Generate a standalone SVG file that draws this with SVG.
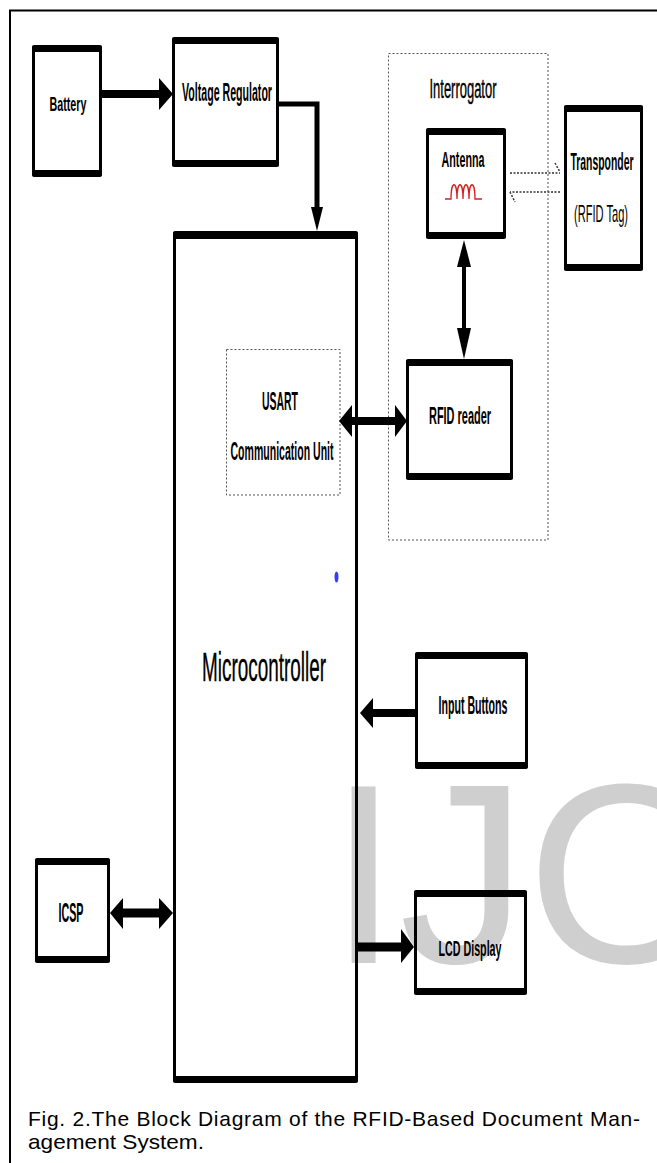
<svg xmlns="http://www.w3.org/2000/svg" width="657" height="1163" viewBox="0 0 657 1163">
<style>
.bx{fill:none;stroke:#000;stroke-width:3}
.bar{fill:#000}
.lbl{font-family:"Liberation Sans",Arial,sans-serif;font-weight:bold;fill:#000;text-anchor:middle}
.lbn{font-family:"Liberation Sans",Arial,sans-serif;font-weight:normal;fill:#000;text-anchor:middle}
.dot{fill:none;stroke:#555;stroke-width:1;stroke-dasharray:2,2}
.ln{fill:none;stroke:#000}
.ah{fill:#000}
.dl{fill:none;stroke:#333;stroke-width:1.5;stroke-dasharray:2,1.5}
.cap{font-family:"Liberation Sans",Arial,sans-serif;font-size:21px;fill:#000}
</style>
<rect width="657" height="1163" fill="#fff"/>
<text x="328" y="963" font-family="Liberation Sans, Arial, sans-serif" font-size="256" fill="#cfcfcf">IJO</text>
<path d="M10,1163 V10.5 H657" fill="none" stroke="#000" stroke-width="2"/>

<g id="interrogator">
<rect class="dot" x="388.5" y="53.5" width="159.5" height="486.5"/>
<text class="lbn" x="463" y="98" font-size="27" textLength="67" lengthAdjust="spacingAndGlyphs" stroke="#000" stroke-width="0.4">Interrogator</text>
</g>
<g id="usart">
<rect class="dot" x="226.5" y="349.5" width="113.5" height="145.5"/>
<text class="lbl" x="280" y="410" font-size="25" textLength="36" lengthAdjust="spacingAndGlyphs">USART</text>
<text class="lbl" x="282" y="460" font-size="25" textLength="103" lengthAdjust="spacingAndGlyphs">Communication Unit</text>
</g>

<g id="battery">
<rect class="bx" x="33.5" y="48" width="67" height="126"/>
<rect class="bar" x="32" y="45" width="70" height="7" rx="2"/>
<rect class="bar" x="32" y="170" width="70" height="7" rx="2"/>
<text class="lbl" x="68" y="111" font-size="21" textLength="37" lengthAdjust="spacingAndGlyphs">Battery</text>
</g>
<g id="voltage-regulator">
<rect class="bx" x="173.5" y="40" width="104" height="124"/>
<rect class="bar" x="172" y="37" width="107" height="7" rx="2"/>
<rect class="bar" x="172" y="160" width="107" height="7" rx="2"/>
<text class="lbl" x="227" y="101" font-size="25" textLength="90" lengthAdjust="spacingAndGlyphs">Voltage Regulator</text>
</g>
<g id="antenna">
<rect class="bx" x="427.5" y="131" width="77" height="105"/>
<rect class="bar" x="426" y="128" width="80" height="7" rx="2"/>
<rect class="bar" x="426" y="232" width="80" height="7" rx="2"/>
<text class="lbl" x="463" y="167" font-size="22" textLength="43" lengthAdjust="spacingAndGlyphs">Antenna</text>
<path d="M445,199 H451 C451,180 457,180 457,199 C457,180 463,180 463,199 C463,180 469,180 469,199 C469,180 475,180 475,199 H482" fill="none" stroke="#d42020" stroke-width="1.3"/>
</g>
<g id="transponder">
<rect class="bx" x="565.5" y="108" width="76" height="160"/>
<rect class="bar" x="564" y="105" width="79" height="7" rx="2"/>
<rect class="bar" x="564" y="264" width="79" height="7" rx="2"/>
<text class="lbl" x="602" y="170" font-size="23" textLength="63" lengthAdjust="spacingAndGlyphs">Transponder</text>
<text class="lbn" x="601" y="222" font-size="24" textLength="54" lengthAdjust="spacingAndGlyphs">(RFID Tag)</text>
</g>
<g id="rfid-reader">
<rect class="bx" x="407.5" y="362" width="104" height="115"/>
<rect class="bar" x="406" y="359" width="107" height="7" rx="2"/>
<rect class="bar" x="406" y="473" width="107" height="7" rx="2"/>
<text class="lbl" x="460" y="424" font-size="24" textLength="62" lengthAdjust="spacingAndGlyphs">RFID reader</text>
</g>
<g id="microcontroller">
<rect class="bx" x="174.5" y="234" width="182" height="846"/>
<rect class="bar" x="173" y="231" width="185" height="8" rx="2"/>
<rect class="bar" x="173" y="1076" width="185" height="7" rx="2"/>
<text class="lbn" x="264" y="681" font-size="40" textLength="124" lengthAdjust="spacingAndGlyphs" stroke="#000" stroke-width="0.4">Microcontroller</text>
<ellipse cx="336.5" cy="577" rx="2" ry="5.5" fill="#3a3aff"/>
</g>
<g id="input-buttons">
<rect class="bx" x="416.5" y="655" width="110" height="111"/>
<rect class="bar" x="415" y="652" width="113" height="7" rx="2"/>
<rect class="bar" x="415" y="762" width="113" height="7" rx="2"/>
<text class="lbl" x="473" y="714" font-size="26" textLength="69" lengthAdjust="spacingAndGlyphs">Input Buttons</text>
</g>
<g id="icsp">
<rect class="bx" x="36.5" y="861" width="72" height="99"/>
<rect class="bar" x="35" y="858" width="75" height="7" rx="2"/>
<rect class="bar" x="35" y="956" width="75" height="7" rx="2"/>
<text class="lbl" x="71" y="922" font-size="27" textLength="25" lengthAdjust="spacingAndGlyphs">ICSP</text>
</g>
<g id="lcd-display">
<rect class="bx" x="415.5" y="893" width="110" height="99"/>
<rect class="bar" x="414" y="890" width="113" height="7" rx="2"/>
<rect class="bar" x="414" y="988" width="113" height="7" rx="2"/>
<text class="lbl" x="470" y="956" font-size="22" textLength="63" lengthAdjust="spacingAndGlyphs">LCD Display</text>
</g>

<g id="connectors">
<line class="ln" x1="102" y1="94" x2="161" y2="94" stroke-width="8"/>
<polygon class="ah" points="159,78 173,94 159,110"/>
<path class="ln" d="M279,104 H317 V209" stroke-width="5"/>
<polygon class="ah" points="311,207 317,231 323,207"/>
<line class="ln" x1="350" y1="421" x2="397" y2="421" stroke-width="8"/>
<polygon class="ah" points="352,405 339,421 352,437"/>
<polygon class="ah" points="395,405 407,421 395,437"/>
<line class="ln" x1="464" y1="265" x2="464" y2="330" stroke-width="4"/>
<polygon class="ah" points="457,267 464,240 471,267"/>
<polygon class="ah" points="457,328 464,359 471,328"/>
<line class="ln" x1="415" y1="713" x2="371" y2="713" stroke-width="8"/>
<polygon class="ah" points="373,698 360,713 373,728"/>
<line class="ln" x1="121" y1="913" x2="161" y2="913" stroke-width="9"/>
<polygon class="ah" points="123,898 110,913 123,929"/>
<polygon class="ah" points="159,898 173,913 159,929"/>
<line class="ln" x1="358" y1="947" x2="403" y2="947" stroke-width="9"/>
<polygon class="ah" points="401,929 414,947 401,963"/>
<path class="dl" d="M510,173 H560 M555,163 L560,172"/>
<path class="dl" d="M560,192 H510 M510,192 L515,202"/>
</g>

<text class="cap" x="28" y="1126" textLength="612" lengthAdjust="spacing">Fig. 2.The Block Diagram of the RFID-Based Document Man-</text>
<text class="cap" x="28" y="1149" textLength="176" lengthAdjust="spacingAndGlyphs">agement System.</text>
</svg>
